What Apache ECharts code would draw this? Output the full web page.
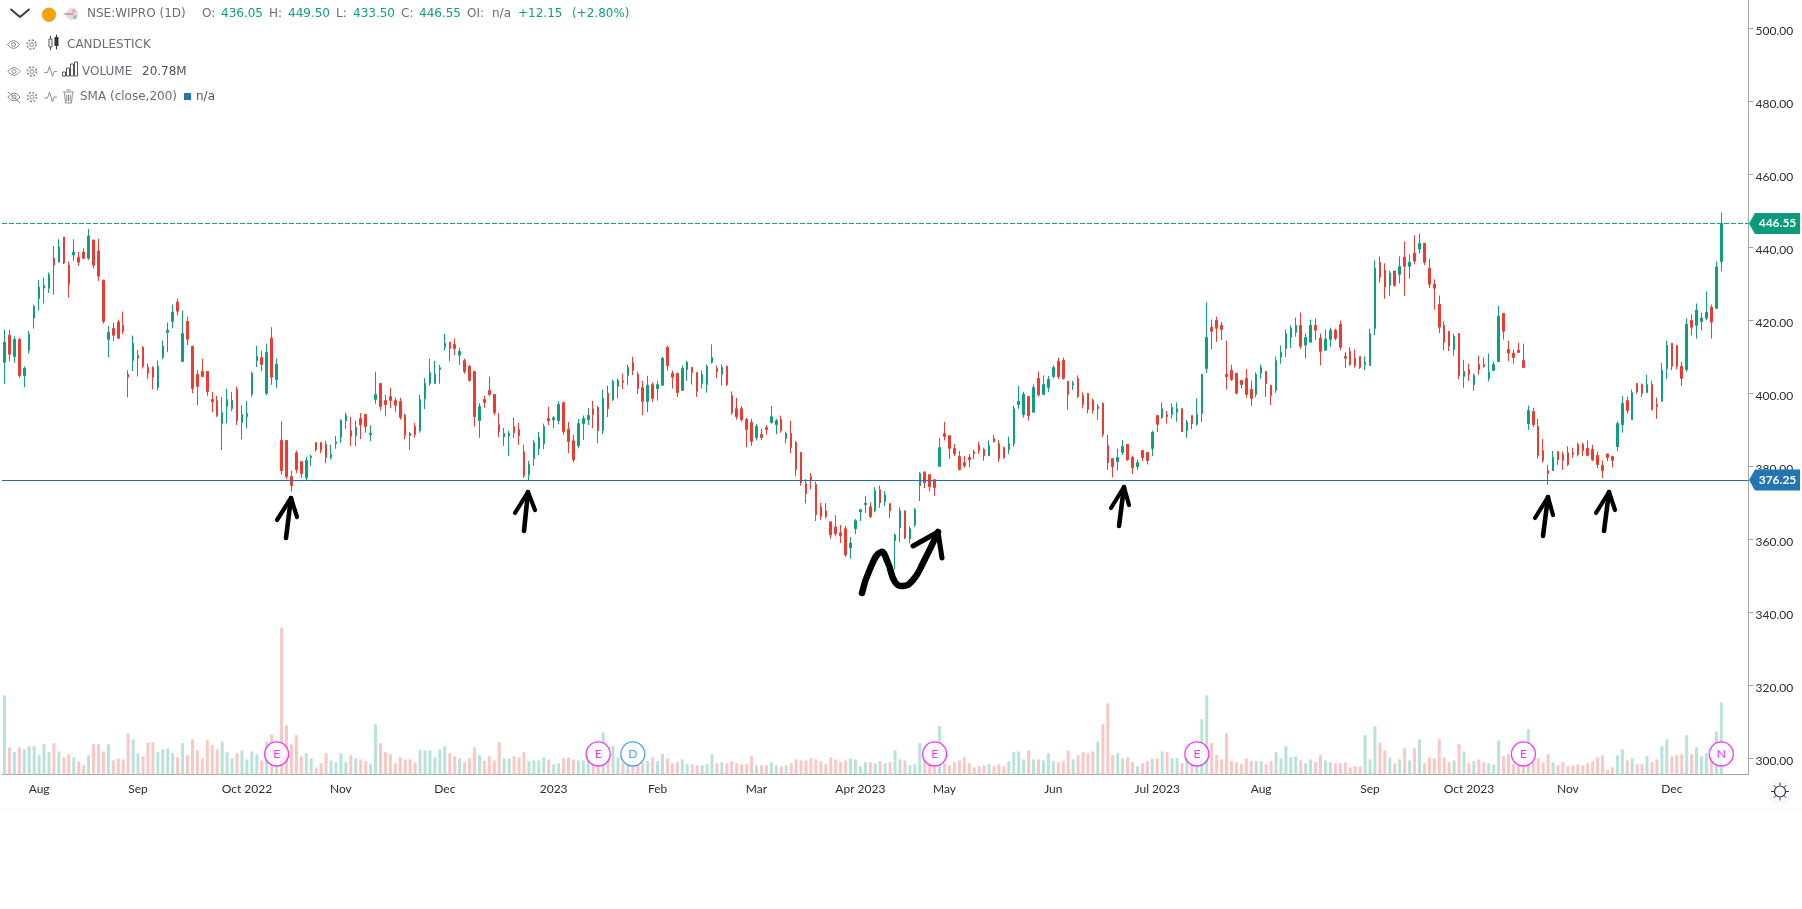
<!DOCTYPE html>
<html>
<head>
<meta charset="utf-8">
<title>NSE:WIPRO (1D)</title>
<style>
  html, body { margin: 0; padding: 0; background: #fff; }
  #chart { width: 1802px; height: 909px; }
</style>
<script src="https://cdn.jsdelivr.net/npm/echarts@6/dist/echarts.min.js"></script>
</head>
<body>
<div id="chart"></div>
<script>
// daily bars, one block of ten per line
var opens = [
  408.5,415.9,410.1,414.8,404.9,411.8,420.6,426.0,428.8,428.8,
  437.0,435.9,442.8,435.1,437.9,437.3,438.7,437.0,442.0,439.0,
  431.0,414.8,417.8,419.5,418.6,405.2,409.0,409.6,412.6,407.1,
  407.1,401.6,409.8,416.7,419.7,425.0,408.7,419.7,412.9,405.2,
  406.0,406.0,398.3,398.0,391.7,396.4,395.8,401.1,392.0,393.6,
  399.7,409.0,409.8,400.0,415.1,403.8,387.1,387.1,377.2,383.7,
  381.3,376.9,382.4,386.5,386.5,386.0,382.4,386.2,387.9,392.5,
  389.8,388.4,393.1,394.2,388.7,398.3,402.7,398.0,399.1,398.0,
  397.8,394.0,389.0,390.9,389.8,398.6,402.7,402.7,406.5,412.6,
  414.0,413.4,410.4,409.0,407.4,406.0,392.5,398.3,400.8,399.7,
  391.4,388.1,388.4,390.9,390.1,384.0,377.7,382.1,384.8,386.2,
  393.1,392.7,392.5,397.5,390.1,387.0,385.7,391.7,392.8,395.8,
  396.1,389.8,400.0,398.3,401.9,403.4,404.9,408.5,405.2,401.6,
  397.8,402.4,401.3,402.2,412.6,405.5,405.5,400.8,406.5,407.1,
  405.7,402.7,402.4,408.5,406.8,405.2,407.4,399.4,395.8,395.8,
  392.8,392.0,387.9,388.7,390.6,392.0,391.4,392.8,387.6,389.0,
  386.5,383.8,375.2,377.2,375.0,368.9,367.8,364.8,363.4,361.8,
  362.9,357.7,362.9,367.5,369.5,368.9,367.8,373.6,370.3,369.8,
  359.6,363.2,367.8,360.1,364.0,374.7,378.3,377.7,376.3,380.0,
  389.0,388.4,384.9,382.7,381.0,382.4,384.0,385.7,384.6,382.9,
  387.6,386.2,385.1,384.6,386.2,396.9,394.2,399.1,394.8,404.1,
  399.7,401.6,404.6,408.8,409.0,403.3,402.2,404.1,399.4,400.0,
  398.0,395.8,397.2,385.7,382.1,381.3,383.8,386.0,382.4,379.9,
  384.3,383.8,384.9,393.9,393.4,394.1,394.2,394.8,395.8,389.8,
  393.9,391.5,394.5,406.8,418.1,420.0,418.6,405.2,406.3,405.5,
  403.5,404.1,401.1,399.7,405.5,406.0,402.2,400.8,409.9,412.3,
  415.3,416.7,418.6,413.2,414.0,418.6,415.1,411.8,414.8,417.3,
  418.9,410.1,411.5,409.6,410.1,407.9,407.6,417.8,435.9,433.7,
  429.6,433.5,432.6,437.3,434.8,438.4,439.5,441.1,434.3,429.9,
  424.4,418.6,417.0,412.0,416.4,404.6,406.5,402.4,407.9,407.9,
  404.1,406.3,408.7,421.9,412.0,411.0,411.8,409.0,391.7,395.0,
  390.9,384.3,378.8,378.8,384.0,383.2,383.7,383.7,386.0,386.0,
  384.9,384.6,383.0,380.2,383.4,382.7,385.4,391.4,398.0,392.8,
  402.7,402.4,400.2,402.4,397.0,397.8,406.8,413.7,413.0,407.4,
  406.5,420.0,418.6,419.7,420.6,423.6,423.3,436.05
];
var closes = [
  414.0,410.7,414.8,404.9,406.9,416.2,423.8,429.1,429.6,432.5,
  435.1,440.1,435.7,429.9,438.7,435.9,437.0,443.1,435.1,432.1,
  419.7,416.7,415.9,415.1,417.0,404.4,413.7,410.4,407.4,405.5,
  404.4,407.4,412.9,417.3,422.2,422.5,416.4,414.8,401.3,401.9,
  404.6,400.5,397.7,393.9,394.7,398.3,398.0,392.5,394.2,394.5,
  405.5,410.1,407.9,411.2,404.4,407.9,378.8,377.2,374.7,379.1,
  378.0,381.6,382.8,384.6,384.3,382.4,383.2,386.7,392.5,393.9,
  388.2,390.6,391.4,390.9,389.1,399.7,396.4,396.9,398.0,396.7,
  393.4,388.4,388.4,388.7,398.3,402.7,405.7,405.2,407.0,413.7,
  412.3,412.3,411.5,406.0,403.5,393.6,396.4,397.5,399.7,394.7,
  389.5,389.0,389.0,389.2,388.4,377.4,380.5,386.5,387.9,390.9,
  392.5,393.3,396.9,389.5,386.8,381.8,391.7,393.1,393.9,394.2,
  389.8,398.6,395.8,403.3,403.5,403.0,407.1,406.3,401.3,397.8,
  402.2,398.6,402.4,409.6,407.6,404.4,400.2,406.8,408.5,405.7,
  400.5,405.2,407.4,409.8,406.0,407.1,402.4,394.7,393.6,392.8,
  390.1,386.8,390.9,387.9,390.1,393.6,392.5,389.8,389.0,385.1,
  379.1,375.5,372.5,376.3,366.7,366.2,366.2,361.2,361.5,361.0,
  355.7,359.0,365.1,368.1,369.9,366.2,373.3,370.0,372.2,367.8,
  361.2,367.8,360.4,362.9,368.1,378.0,375.5,374.4,374.2,385.1,
  388.2,384.9,383.5,379.1,380.2,381.8,383.5,384.3,382.9,385.7,
  386.8,382.1,382.4,386.2,395.8,397.8,399.7,393.9,401.6,399.6,
  402.4,403.8,407.1,404.6,404.1,399.7,402.7,399.1,396.9,395.6,
  395.3,396.4,388.7,381.0,379.9,382.4,385.4,381.8,379.6,381.0,
  382.4,381.6,389.3,391.5,395.8,393.6,396.1,395.8,389.5,392.0,
  391.7,394.2,405.2,415.3,417.0,417.8,417.5,404.6,403.8,400.0,
  402.4,399.7,398.6,405.2,407.1,402.7,399.4,409.0,411.2,416.4,
  417.8,418.6,412.9,415.3,418.6,417.3,411.5,414.8,417.3,415.1,
  412.6,409.6,407.9,407.6,407.1,408.5,416.4,434.3,431.8,429.1,
  432.9,429.6,434.8,434.8,435.9,436.2,441.1,435.9,429.9,428.8,
  418.1,414.0,412.9,415.6,404.9,406.0,405.2,404.9,406.5,407.4,
  405.7,407.9,421.1,417.0,411.0,409.8,411.2,407.1,395.3,391.4,
  382.9,381.6,378.0,382.4,381.8,381.6,380.5,383.2,383.2,384.3,
  383.0,381.8,380.5,378.8,382.4,381.6,391.7,397.2,395.3,400.2,
  400.5,400.0,402.4,395.6,396.4,406.3,413.1,407.4,407.4,404.1,
  418.9,418.1,422.8,420.6,422.2,419.5,434.6,446.55
];
var lows = [
  402.6,408.8,408.4,404.3,401.7,410.9,417.7,422.6,424.6,427.5,
  427.0,435.9,435.4,426.2,436.3,434.9,436.7,436.5,434.2,430.8,
  419.1,409.9,414.3,414.8,416.2,398.9,406.1,404.6,406.8,403.9,
  401.1,400.8,409.3,411.3,417.8,421.4,408.7,413.2,400.0,396.7,
  404.5,399.3,394.8,393.5,384.5,391.8,395.1,391.3,387.4,390.4,
  399.0,407.2,406.1,399.5,402.3,401.4,377.7,376.5,373.0,378.1,
  376.9,375.9,380.1,384.0,383.6,380.8,381.8,384.8,386.4,390.3,
  385.5,385.5,387.4,389.2,386.9,397.1,395.3,393.7,395.9,394.8,
  392.8,387.4,384.5,387.9,389.2,395.7,402.1,402.7,402.6,411.7,
  408.8,410.4,407.8,405.4,403.2,390.9,387.8,396.0,399.1,394.0,
  388.0,385.6,382.8,387.8,385.9,376.8,376.2,380.1,383.1,384.7,
  391.3,390.5,391.5,388.6,383.6,381.1,384.9,387.2,391.3,390.5,
  386.3,388.8,393.5,397.9,398.6,401.2,402.3,405.0,399.8,394.0,
  394.8,397.6,398.0,402.2,406.2,401.3,399.0,400.8,403.4,402.4,
  399.0,401.3,400.2,408.1,404.1,402.1,402.0,394.1,392.8,392.3,
  385.2,385.6,387.1,387.2,388.7,391.7,388.8,389.2,386.3,383.6,
  377.3,374.7,369.8,373.7,365.0,365.3,365.7,360.2,360.8,359.0,
  355.2,354.7,361.4,365.0,367.2,365.8,367.4,368.6,369.1,365.8,
  351.8,359.2,360.1,358.9,363.4,370.5,374.0,373.1,371.9,380.0,
  387.1,382.0,382.8,378.9,379.6,379.8,382.0,383.4,381.5,382.8,
  386.5,381.2,382.0,383.4,385.4,395.8,393.3,392.5,394.8,399.1,
  399.5,400.4,404.1,403.9,403.7,395.5,400.9,398.7,395.9,394.5,
  394.4,392.7,388.0,379.0,377.0,378.8,383.1,381.5,377.9,379.0,
  381.4,380.5,382.8,389.4,393.0,391.7,393.0,392.2,389.4,387.8,
  390.2,391.1,392.1,405.6,412.1,414.1,414.6,401.0,403.4,399.7,
  401.3,398.8,396.5,398.9,403.9,399.0,396.8,400.1,408.1,409.9,
  412.4,415.5,412.2,409.5,414.0,414.7,407.7,411.8,412.7,414.5,
  411.8,407.0,407.5,407.0,406.7,406.4,407.5,416.0,430.3,425.9,
  426.7,429.2,430.1,426.7,431.4,435.3,438.3,435.1,428.8,422.9,
  416.5,411.8,411.6,410.3,403.9,401.5,403.4,400.7,405.1,407.0,
  403.3,406.1,408.7,414.7,408.8,408.1,411.0,407.0,390.0,390.7,
  382.1,381.0,374.9,378.8,380.4,379.0,380.1,382.3,382.7,382.8,
  382.7,381.4,379.5,376.8,381.4,379.7,384.2,389.2,394.4,392.8,
  399.9,399.0,400.2,395.3,393.0,397.8,403.9,406.3,406.6,402.0,
  405.9,415.9,415.0,417.2,420.0,415.0,423.2,433.5
];
var highs = [
  417.4,417.4,415.6,415.2,407.4,417.0,424.3,431.0,431.7,433.1,
  440.3,442.2,442.8,436.1,442.2,438.7,439.7,445.0,442.0,442.4,
  431.0,418.5,419.4,420.2,422.4,406.3,415.8,411.8,412.9,408.1,
  407.4,409.0,414.5,419.4,424.3,426.0,422.7,421.0,412.9,406.3,
  409.5,406.0,400.4,399.3,399.0,401.2,400.4,401.8,396.7,397.9,
  405.9,413.0,411.7,413.6,418.1,409.5,392.3,387.2,378.8,384.3,
  381.3,382.6,383.2,386.5,386.5,387.0,385.9,388.3,392.9,394.7,
  393.5,392.5,394.6,394.4,391.2,405.9,402.7,399.6,401.5,398.9,
  398.8,394.4,389.4,391.9,399.6,404.2,409.5,408.9,407.8,416.3,
  414.0,415.0,412.5,409.5,407.8,406.0,397.3,399.3,404.5,399.7,
  394.6,390.5,389.7,393.3,391.9,385.9,381.5,387.2,389.4,391.7,
  396.3,393.8,397.8,397.5,392.2,388.6,393.0,393.9,396.0,397.9,
  396.6,401.0,402.1,403.7,404.1,405.4,407.8,410.0,405.9,403.4,
  404.8,403.0,403.4,410.0,413.1,406.2,405.5,407.6,408.9,407.1,
  405.7,406.3,407.9,413.4,407.6,407.9,407.6,400.5,398.8,396.4,
  393.3,393.0,391.6,390.3,391.3,396.6,393.0,393.9,389.5,392.4,
  387.0,383.8,376.5,378.1,375.8,370.0,369.9,364.8,366.6,363.9,
  363.7,360.6,365.6,368.3,371.9,370.1,374.3,374.7,373.2,369.8,
  361.6,368.8,367.8,363.6,368.6,378.4,378.7,377.7,376.6,387.8,
  392.2,388.4,386.1,384.2,382.8,383.4,384.6,386.7,385.1,387.1,
  388.6,387.2,385.4,388.1,396.6,402.1,400.4,399.1,402.5,406.0,
  404.9,404.8,407.7,409.8,409.8,403.3,403.4,404.9,400.3,400.0,
  398.6,397.1,397.5,388.6,382.1,384.8,387.2,386.0,382.9,381.8,
  384.3,383.8,389.8,393.9,397.5,395.2,397.2,397.5,395.8,392.7,
  393.9,398.6,405.3,424.9,420.2,421.0,419.5,414.4,407.8,405.5,
  403.5,406.6,403.5,405.7,407.9,406.0,402.2,410.1,413.1,417.5,
  418.6,420.7,422.1,416.4,420.2,420.5,416.4,417.5,418.0,417.7,
  419.9,411.3,412.6,412.0,410.1,410.1,417.7,436.4,437.5,435.6,
  433.6,433.5,437.5,441.6,438.0,443.3,443.8,441.1,436.8,431.2,
  426.8,419.7,417.0,416.3,416.4,409.2,408.1,405.4,410.3,409.8,
  410.9,408.7,424.0,421.9,414.4,412.0,413.9,413.6,396.6,396.0,
  393.0,387.5,380.4,384.2,384.2,384.0,385.5,385.1,386.5,386.5,
  387.0,385.9,384.0,381.6,383.4,382.8,392.3,399.3,399.1,401.0,
  402.7,402.7,405.1,403.4,398.8,408.3,414.4,413.7,413.3,408.7,
  420.5,421.6,424.6,422.1,427.9,424.3,436.1,449.5
];
// volume in millions
var volumes = [
  22.8,7.8,6.4,7.8,7.2,8.1,8.1,5.5,8.7,6.4,
  9.0,6.6,4.9,5.8,4.9,3.8,2.6,5.5,8.7,8.7,
  6.6,8.7,4.0,4.6,4.3,11.8,10.1,6.1,5.2,9.2,
  9.2,6.4,7.2,7.5,6.1,4.9,9.0,5.5,10.1,6.9,
  4.6,9.8,8.4,7.2,9.5,6.4,4.6,6.1,6.9,4.3,
  6.6,5.8,4.0,9.5,11.5,4.9,42.2,14.1,8.7,11.3,
  5.2,6.1,4.6,2.0,3.2,6.1,4.0,3.5,6.1,3.5,
  5.5,4.6,4.3,3.8,2.9,14.4,9.0,6.4,5.8,3.2,
  4.9,4.3,4.3,3.5,6.9,6.9,6.9,4.9,7.2,8.1,
  6.1,5.2,4.6,3.5,4.6,7.8,5.5,3.8,5.2,4.0,
  9.2,4.6,4.6,5.2,4.9,6.4,3.8,4.0,4.0,4.9,
  4.3,2.9,3.2,4.6,4.9,4.3,4.0,4.0,6.1,3.2,
  3.2,12.1,4.6,8.1,4.9,3.2,2.7,2.7,2.7,3.2,
  3.8,4.9,3.8,5.8,4.6,3.2,3.5,4.3,2.9,2.9,
  2.6,2.6,2.9,5.8,3.2,3.5,3.2,3.8,3.2,2.9,
  2.9,5.2,2.6,2.6,2.6,3.5,2.6,2.3,2.6,3.2,
  4.3,4.0,4.0,4.6,4.3,3.8,2.9,4.9,4.3,3.5,
  4.0,4.6,4.3,2.3,3.5,3.5,3.2,3.8,3.2,3.5,
  6.9,4.3,4.0,2.6,2.9,9.0,5.5,4.1,3.2,13.9,
  3.2,2.6,3.5,4.0,4.9,3.2,2.0,2.3,2.6,2.9,
  2.3,2.9,2.3,3.8,6.4,6.6,4.3,6.9,4.3,4.3,
  4.0,6.1,3.8,3.5,3.8,6.9,4.3,5.5,6.4,6.1,
  6.6,9.5,14.4,20.5,5.5,6.1,4.6,4.9,3.5,2.3,
  3.2,3.8,4.6,4.6,6.6,6.4,4.6,4.6,3.2,5.1,
  4.1,4.1,15.9,22.8,9.0,5.5,4.3,11.8,3.8,3.5,
  2.9,4.6,3.8,3.8,3.8,2.9,3.8,6.4,4.6,8.1,
  4.9,5.2,4.0,3.2,4.3,3.5,5.5,4.0,3.5,3.2,
  3.2,3.5,2.0,2.3,2.3,11.3,4.3,13.9,9.2,6.9,
  4.9,3.2,4.3,7.5,4.0,7.5,10.1,3.2,4.9,4.6,
  10.1,4.9,3.5,4.0,8.7,6.6,3.2,3.8,4.3,3.5,
  3.2,2.9,9.8,5.2,5.8,2.9,2.6,2.6,13.0,3.2,
  4.6,3.5,5.8,3.5,2.6,3.5,2.3,2.6,2.9,2.6,
  3.2,3.8,4.9,5.5,1.2,2.0,5.5,7.2,4.0,4.6,
  2.9,2.9,5.2,3.5,4.3,8.1,10.1,5.2,5.5,5.8,
  11.3,5.8,7.8,5.2,6.1,4.9,12.4,20.78
];
var emptyBars = 5; // blank space right of the last bar
var monthIndex = [7, 27, 49, 68, 89, 111, 132, 152, 173, 190, 212, 233, 254, 276, 296, 316, 337];
var monthLabels = ['Aug', 'Sep', 'Oct 2022', 'Nov', 'Dec', '2023', 'Feb', 'Mar', 'Apr 2023', 'May', 'Jun', 'Jul 2023', 'Aug', 'Sep', 'Oct 2023', 'Nov', 'Dec'];
var priceTicks = [300, 320, 340, 360, 380, 400, 420, 440, 460, 480, 500];
var eventIndex = [55, 120, 127, 188, 241, 307, 347];
var eventLabels = ['E', 'E', 'D', 'E', 'E', 'E', 'N'];
var lastClose = 446.55;
var supportLevel = 376.25;

var UP = '#0e9f7e', DOWN = '#ec3b30';
var UP_VOL = '#b9e3da', DOWN_VOL = '#fac8c4';
var HEAD_FONT = '"DejaVu Sans"', AXIS_FONT = 'Lato';
var GREY = '#6a6d78', ICON = '#8b8e96';

var categories = [];
for (var i = 0; i < opens.length + emptyBars; i++) categories.push(String(i));

var candleData = opens.map(function (o, i) { return [o, closes[i], lows[i], highs[i]]; });
var eventData = eventIndex.map(function (x, i) {
  var c = eventLabels[i] === 'D' ? '#1e88f0' : '#fa00fa';
  return {
    value: [x, 301.2],
    itemStyle: { color: '#fff', borderColor: c, borderWidth: 1.3 },
    label: { show: true, formatter: eventLabels[i], color: c, fontFamily: AXIS_FONT, fontSize: 12 }
  };
});

var chart = echarts.init(document.getElementById('chart'), null, { renderer: 'canvas' });

chart.setOption({
  animation: false,
  backgroundColor: '#fff',
  grid: { left: 2, top: 0, width: 1746.5, height: 774.3, containLabel: false },
  xAxis: {
    type: 'category',
    data: categories,
    boundaryGap: true,
    axisLine: { lineStyle: { color: '#a3a6af', width: 1 } },
    axisTick: {
      length: 5,
      alignWithLabel: true,
      lineStyle: { color: '#a3a6af' },
      interval: function (idx) { return monthIndex.indexOf(idx) >= 0; }
    },
    axisLabel: {
      color: '#2a2e39',
      fontFamily: AXIS_FONT,
      fontSize: 12,
      margin: 9,
      interval: function (idx) { return monthIndex.indexOf(idx) >= 0; },
      formatter: function (v, idx) { return monthLabels[monthIndex.indexOf(idx)]; }
    },
    splitLine: { show: false }
  },
  yAxis: [{
    type: 'value',
    position: 'right',
    min: 295.62,
    max: 507.75,
    axisLine: { show: true, lineStyle: { color: '#a3a6af', width: 1 } },
    axisTick: { show: true, length: 5, lineStyle: { color: '#a3a6af' }, customValues: priceTicks },
    axisLabel: {
      color: '#2a2e39',
      fontFamily: AXIS_FONT,
      fontSize: 12,
      margin: 7,
      verticalAlign: 'top',
      lineHeight: 6,
      customValues: priceTicks,
      formatter: function (v) { return v.toFixed(2); }
    },
    splitLine: { show: false }
  }, {
    type: 'value',
    min: 0,
    max: 223.5,
    show: false,
    splitLine: { show: false }
  }],
  series: [{
    name: 'VOLUME',
    type: 'bar',
    yAxisIndex: 1,
    barWidth: 3,
    data: volumes,
    itemStyle: {
      color: function (p) { return closes[p.dataIndex] >= opens[p.dataIndex] ? UP_VOL : DOWN_VOL; }
    },
    z: 1
  }, {
    name: 'NSE:WIPRO',
    type: 'candlestick',
    yAxisIndex: 0,
    barWidth: 2,
    data: candleData,
    itemStyle: { color: UP, color0: DOWN, borderColor: UP, borderColor0: DOWN, borderWidth: 1 },
    markLine: {
      silent: true,
      symbol: 'none',
      animation: false,
      label: { show: false },
      data: [
        { yAxis: lastClose, lineStyle: { color: '#14a085', type: [5, 2], width: 1 } },
        { yAxis: supportLevel, lineStyle: { color: '#2b6ea6', type: 'solid', width: 1.2 } }
      ]
    },
    z: 2
  }, {
    name: 'events',
    type: 'scatter',
    yAxisIndex: 0,
    symbol: 'circle',
    symbolSize: 24,
    data: eventData,
    z: 5
  }]
});

// price tags on the right axis, placed through the axis scale
function priceTag(value, color) {
  var y = chart.convertToPixel({ yAxisIndex: 0 }, value);
  return [{
    type: 'polygon',
    z: 100,
    shape: { points: [[1749, y], [1755, y - 10.5], [1800, y - 10.5], [1800, y + 10.5], [1755, y + 10.5]] },
    style: { fill: color }
  }, {
    type: 'text',
    z: 101,
    x: 1777.5,
    y: y,
    style: { text: value.toFixed(2), fill: '#fff', font: 'bold 12px ' + AXIS_FONT, textAlign: 'center', textVerticalAlign: 'middle' }
  }];
}

function label(x, y, str, fill) {
  return {
    type: 'text', z: 50, x: x, y: y,
    style: { text: str, fill: fill || GREY, font: '12px ' + HEAD_FONT, textVerticalAlign: 'middle' }
  };
}
function stroke(points, width, color, smooth) {
  return {
    type: 'polyline', z: 50,
    shape: { points: points, smooth: smooth || 0 },
    style: { stroke: color || ICON, lineWidth: width, fill: 'none', lineCap: 'round', lineJoin: 'round' }
  };
}
function eye(x, y, crossed) {
  var out = [
    stroke([[x - 6, y], [x - 3, y - 3], [x, y - 4], [x + 3, y - 3], [x + 6, y], [x + 3, y + 3], [x, y + 4], [x - 3, y + 3], [x - 6, y]], 1),
    { type: 'circle', z: 50, shape: { cx: x, cy: y, r: 2 }, style: { stroke: ICON, fill: 'none', lineWidth: 1 } }
  ];
  if (crossed) out.push(stroke([[x - 6, y - 5], [x + 6, y + 6]], 1));
  return out;
}
function gear(x, y) {
  return [
    { type: 'circle', z: 50, shape: { cx: x, cy: y, r: 2 }, style: { stroke: ICON, fill: 'none', lineWidth: 1 } },
    { type: 'circle', z: 50, shape: { cx: x, cy: y, r: 4.5 }, style: { stroke: ICON, fill: 'none', lineWidth: 1.6, lineDash: [2, 1.5] } }
  ];
}
function wave(x, y) {
  return stroke([[x - 6, y + 1], [x - 3, y + 1], [x - 1, y - 5], [x + 2, y + 5], [x + 3.5, y], [x + 6, y]], 1);
}
function bars(x, y, heights) {
  return heights.map(function (h, i) {
    return { type: 'rect', z: 50, shape: { x: x + i * 4, y: y - h, width: 3, height: h }, style: { stroke: '#555', fill: 'none', lineWidth: 1 } };
  });
}
function arrow(tip, base, left, right) {
  return [
    stroke([base, tip], 4.6, '#000'),
    stroke([left, tip, right], 4.2, '#000')
  ];
}
function trash(x, y) {
  return [
    stroke([[x - 4, y - 4], [x - 3, y + 6], [x + 3, y + 6], [x + 4, y - 4]], 1),
    stroke([[x - 5, y - 5], [x + 5, y - 5]], 1),
    stroke([[x - 2, y - 7], [x + 2, y - 7]], 1),
    stroke([[x - 1.7, y - 2], [x - 1.7, y + 4]], 1),
    stroke([[x, y - 2], [x, y + 4]], 1),
    stroke([[x + 1.7, y - 2], [x + 1.7, y + 4]], 1)
  ];
}
function sun(cx, cy) {
  var out = [
    { type: 'circle', z: 40, shape: { cx: cx, cy: cy, r: 13 }, style: { fill: '#f8f9fd' } },
    { type: 'circle', z: 50, shape: { cx: cx, cy: cy, r: 5.5 }, style: { fill: 'none', stroke: '#333', lineWidth: 1.2 } }
  ];
  [[0, -1], [0, 1], [-1, 0], [1, 0], [-0.7, -0.7], [0.7, 0.7], [-0.7, 0.7], [0.7, -0.7]].forEach(function (d) {
    out.push(stroke([[cx + d[0] * 6.5, cy + d[1] * 6.5], [cx + d[0] * 8.5, cy + d[1] * 8.5]], 1, '#333'));
  });
  return out;
}

var overlay = [].concat(
  priceTag(lastClose, '#0a9b7b'),
  priceTag(supportLevel, '#2276b3'),
  // legend rows
  stroke([[11, 9.5], [20, 17], [29, 9.5]], 2, '#3a3d46'),
  { type: 'circle', z: 50, shape: { cx: 49, cy: 14.7, r: 7 }, style: { fill: '#f7a400', stroke: '#a9a9a9', lineWidth: 0.5 } },
  { type: 'circle', z: 50, shape: { cx: 72, cy: 14, r: 6 }, style: { fill: '#ead7df' } },
  { type: 'circle', z: 50, shape: { cx: 74, cy: 11, r: 2 }, style: { fill: '#f2b47c' } },
  { type: 'circle', z: 50, shape: { cx: 75, cy: 17, r: 2 }, style: { fill: '#8cc7d6' } },
  stroke([[64, 14], [73, 14]], 1, '#8a7d90'),
  label(87, 14, 'NSE:WIPRO (1D)'),
  label(202, 14, 'O:'), label(221, 14, '436.05', UP),
  label(269, 14, 'H:'), label(288, 14, '449.50', UP),
  label(336, 14, 'L:'), label(353, 14, '433.50', UP),
  label(401, 14, 'C:'), label(419, 14, '446.55', UP),
  label(467, 14, 'OI:'), label(492, 14, 'n/a'),
  label(518, 14, '+12.15', UP), label(572, 14, '(+2.80%)', UP),
  eye(13.5, 44.5), gear(31.5, 44.5),
  stroke([[50.5, 36], [50.5, 50]], 1, '#555'),
  { type: 'rect', z: 50, shape: { x: 49, y: 39, width: 3, height: 8 }, style: { fill: '#fff', stroke: '#555', lineWidth: 1 } },
  stroke([[56.5, 35], [56.5, 49]], 1, '#333'),
  { type: 'rect', z: 50, shape: { x: 54.5, y: 37, width: 4, height: 9 }, style: { fill: '#333' } },
  label(67, 45, 'CANDLESTICK'),
  eye(14, 71.5), gear(32, 71.5), wave(50.5, 71.5),
  bars(62.5, 76, [4, 8, 12, 14]),
  label(82, 72, 'VOLUME'), label(142, 72, '20.78M', '#50535e'),
  eye(14, 97, true), gear(32, 97), wave(50.5, 97),
  trash(68.5, 97),
  label(80, 97, 'SMA (close,200)'),
  { type: 'rect', z: 50, shape: { x: 184, y: 93, width: 7, height: 7 }, style: { fill: '#2276b3' } },
  label(196, 97, 'n/a', '#50535e'),
  // hand drawn marks
  arrow([291, 498], [286, 538], [277, 520], [297, 517]),
  arrow([528, 492], [524, 531], [515, 513], [535, 510]),
  arrow([1124, 487], [1119, 526], [1111, 508], [1129, 505]),
  arrow([1548, 497], [1543, 536], [1535, 518], [1553, 515]),
  arrow([1609, 492], [1604, 531], [1596, 513], [1615, 510]),
  stroke([[862, 593], [870, 569], [881, 552], [888, 563], [895, 582], [903, 586], [913, 580], [923, 563], [938, 532]], 6.5, '#000', 0.5),
  stroke([[913, 546], [938, 532], [942, 558]], 5, '#000'),
  // footer strip and settings button
  { type: 'rect', z: 0, shape: { x: 0, y: 808, width: 1802, height: 2.5 }, style: { fill: '#f8f9fd' } },
  sun(1780, 791.5)
);
chart.setOption({ graphic: { elements: overlay } });
</script>
</body>
</html>
